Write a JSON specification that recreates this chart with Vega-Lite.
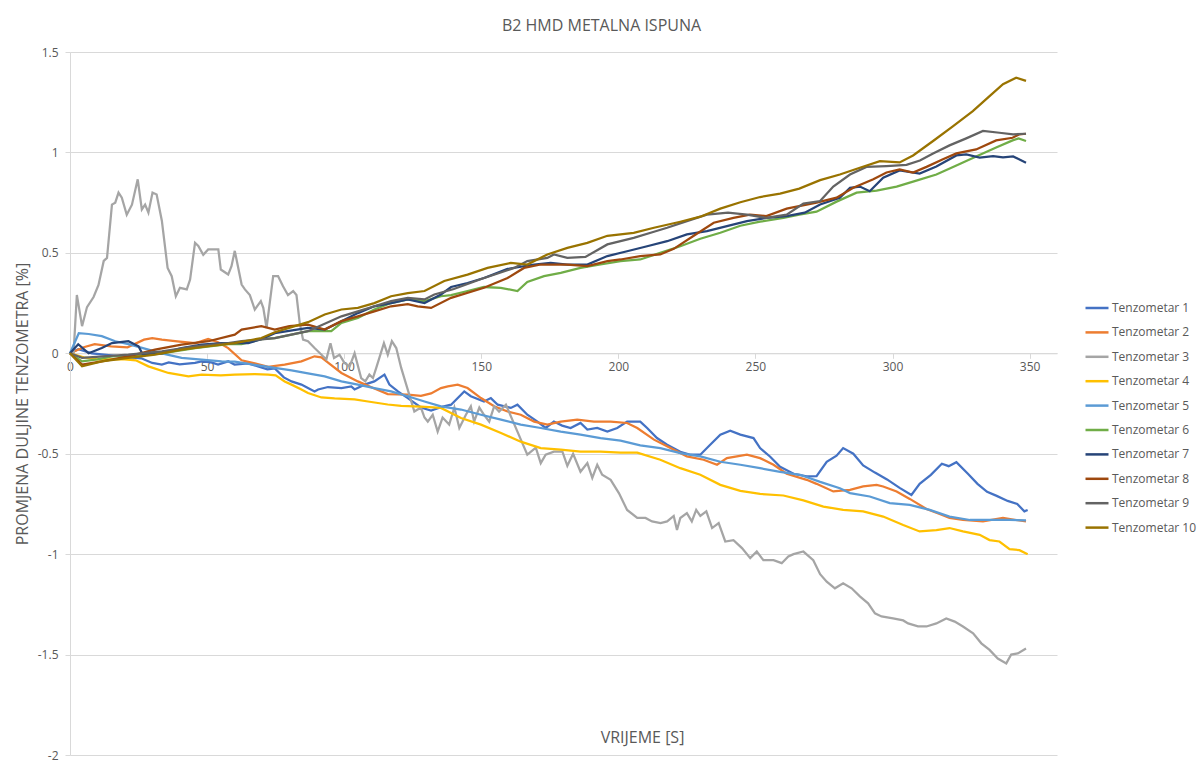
{
"$schema": "https://vega.github.io/schema/vega-lite/v6.json",
"autosize": {"type": "none"},
"padding": {"left": 70, "top": 52, "right": 144, "bottom": 5},
"width": 987,
"height": 703,
"background": "white",
"config": {"view": {"stroke": null}},
"title": {"text": "B2 HMD METALNA ISPUNA", "anchor": "middle", "frame": "group", "dx": 38, "dy": 22, "offset": 21, "baseline": "alphabetic", "font": "Open Sans", "fontSize": 16, "fontWeight": "normal", "color": "#595959"},
"data": {"values": [
{"n":1,"t":0,"v":0},{"n":1,"t":3,"v":0.02},{"n":1,"t":8,"v":0},{"n":1,"t":15,"v":-0.01},{"n":1,"t":22,"v":-0.02},{"n":1,"t":26,"v":-0.025},{"n":1,"t":30,"v":-0.048},{"n":1,"t":33.5,"v":-0.056},{"n":1,"t":36,"v":-0.045},{"n":1,"t":40,"v":-0.055},{"n":1,"t":45.6,"v":-0.048},{"n":1,"t":48,"v":-0.04},{"n":1,"t":51.6,"v":-0.045},{"n":1,"t":54,"v":-0.056},{"n":1,"t":57.7,"v":-0.04},{"n":1,"t":60,"v":-0.056},{"n":1,"t":65,"v":-0.05},{"n":1,"t":68.6,"v":-0.065},{"n":1,"t":72,"v":-0.08},{"n":1,"t":74.7,"v":-0.075},{"n":1,"t":78,"v":-0.12},{"n":1,"t":80.8,"v":-0.14},{"n":1,"t":84.4,"v":-0.156},{"n":1,"t":86.8,"v":-0.173},{"n":1,"t":89.2,"v":-0.19},{"n":1,"t":90.5,"v":-0.18},{"n":1,"t":94.1,"v":-0.168},{"n":1,"t":99,"v":-0.173},{"n":1,"t":102.6,"v":-0.165},{"n":1,"t":103.8,"v":-0.18},{"n":1,"t":107.4,"v":-0.156},{"n":1,"t":111,"v":-0.14},{"n":1,"t":114.7,"v":-0.106},{"n":1,"t":116.5,"v":-0.156},{"n":1,"t":119.6,"v":-0.19},{"n":1,"t":123.2,"v":-0.223},{"n":1,"t":128,"v":-0.27},{"n":1,"t":131.7,"v":-0.285},{"n":1,"t":135.3,"v":-0.268},{"n":1,"t":139,"v":-0.256},{"n":1,"t":143.8,"v":-0.19},{"n":1,"t":146.2,"v":-0.214},{"n":1,"t":151,"v":-0.24},{"n":1,"t":153.5,"v":-0.223},{"n":1,"t":156,"v":-0.256},{"n":1,"t":160.8,"v":-0.272},{"n":1,"t":163.2,"v":-0.256},{"n":1,"t":166.8,"v":-0.306},{"n":1,"t":170.5,"v":-0.34},{"n":1,"t":173.5,"v":-0.372},{"n":1,"t":176.5,"v":-0.34},{"n":1,"t":179.5,"v":-0.36},{"n":1,"t":182.6,"v":-0.372},{"n":1,"t":186.2,"v":-0.347},{"n":1,"t":188.7,"v":-0.38},{"n":1,"t":192.3,"v":-0.372},{"n":1,"t":196,"v":-0.39},{"n":1,"t":199.6,"v":-0.372},{"n":1,"t":203.2,"v":-0.34},{"n":1,"t":208,"v":-0.34},{"n":1,"t":210.5,"v":-0.372},{"n":1,"t":214.1,"v":-0.422},{"n":1,"t":217.8,"v":-0.455},{"n":1,"t":222.6,"v":-0.49},{"n":1,"t":226.3,"v":-0.505},{"n":1,"t":229.9,"v":-0.505},{"n":1,"t":233.5,"v":-0.455},{"n":1,"t":237.2,"v":-0.405},{"n":1,"t":240.8,"v":-0.385},{"n":1,"t":244.5,"v":-0.405},{"n":1,"t":249.3,"v":-0.422},{"n":1,"t":251.7,"v":-0.472},{"n":1,"t":255.4,"v":-0.515},{"n":1,"t":259,"v":-0.565},{"n":1,"t":263.9,"v":-0.6},{"n":1,"t":268.7,"v":-0.613},{"n":1,"t":272.3,"v":-0.612},{"n":1,"t":276,"v":-0.54},{"n":1,"t":279.6,"v":-0.51},{"n":1,"t":282,"v":-0.472},{"n":1,"t":285.7,"v":-0.5},{"n":1,"t":289.3,"v":-0.558},{"n":1,"t":293.6,"v":-0.594},{"n":1,"t":298,"v":-0.628},{"n":1,"t":302.6,"v":-0.67},{"n":1,"t":306.9,"v":-0.705},{"n":1,"t":309.9,"v":-0.65},{"n":1,"t":314,"v":-0.605},{"n":1,"t":318,"v":-0.55},{"n":1,"t":320.5,"v":-0.562},{"n":1,"t":323.3,"v":-0.542},{"n":1,"t":327.5,"v":-0.6},{"n":1,"t":331,"v":-0.65},{"n":1,"t":334.5,"v":-0.69},{"n":1,"t":338,"v":-0.71},{"n":1,"t":342,"v":-0.735},{"n":1,"t":345.5,"v":-0.75},{"n":1,"t":348.1,"v":-0.787},{"n":1,"t":349.3,"v":-0.78},
{"n":2,"t":0,"v":0},{"n":2,"t":5,"v":0.03},{"n":2,"t":9,"v":0.045},{"n":2,"t":15,"v":0.035},{"n":2,"t":21,"v":0.03},{"n":2,"t":27,"v":0.068},{"n":2,"t":30,"v":0.076},{"n":2,"t":33.5,"v":0.068},{"n":2,"t":38.3,"v":0.06},{"n":2,"t":45.6,"v":0.05},{"n":2,"t":50.4,"v":0.072},{"n":2,"t":54,"v":0.055},{"n":2,"t":57.7,"v":0.026},{"n":2,"t":62.6,"v":-0.035},{"n":2,"t":67.4,"v":-0.05},{"n":2,"t":72.3,"v":-0.068},{"n":2,"t":78.3,"v":-0.056},{"n":2,"t":84.4,"v":-0.04},{"n":2,"t":89.2,"v":-0.015},{"n":2,"t":91.7,"v":-0.02},{"n":2,"t":94,"v":-0.045},{"n":2,"t":99,"v":-0.098},{"n":2,"t":105,"v":-0.14},{"n":2,"t":111,"v":-0.175},{"n":2,"t":115.9,"v":-0.203},{"n":2,"t":123.2,"v":-0.206},{"n":2,"t":128,"v":-0.212},{"n":2,"t":131.7,"v":-0.2},{"n":2,"t":135.3,"v":-0.173},{"n":2,"t":137.8,"v":-0.165},{"n":2,"t":141.4,"v":-0.156},{"n":2,"t":145,"v":-0.173},{"n":2,"t":149.9,"v":-0.223},{"n":2,"t":154.7,"v":-0.264},{"n":2,"t":159.6,"v":-0.29},{"n":2,"t":164.4,"v":-0.306},{"n":2,"t":169.3,"v":-0.34},{"n":2,"t":174.1,"v":-0.355},{"n":2,"t":179,"v":-0.34},{"n":2,"t":185,"v":-0.33},{"n":2,"t":191.1,"v":-0.34},{"n":2,"t":197.2,"v":-0.34},{"n":2,"t":203.2,"v":-0.347},{"n":2,"t":206.9,"v":-0.372},{"n":2,"t":213,"v":-0.43},{"n":2,"t":219,"v":-0.472},{"n":2,"t":225,"v":-0.513},{"n":2,"t":231.1,"v":-0.53},{"n":2,"t":236,"v":-0.555},{"n":2,"t":239.6,"v":-0.522},{"n":2,"t":246.9,"v":-0.505},{"n":2,"t":251.7,"v":-0.522},{"n":2,"t":256.6,"v":-0.555},{"n":2,"t":261.4,"v":-0.6},{"n":2,"t":268.7,"v":-0.63},{"n":2,"t":272.3,"v":-0.65},{"n":2,"t":278.4,"v":-0.688},{"n":2,"t":284.5,"v":-0.68},{"n":2,"t":289.3,"v":-0.663},{"n":2,"t":294.2,"v":-0.655},{"n":2,"t":296.6,"v":-0.663},{"n":2,"t":301.5,"v":-0.688},{"n":2,"t":306.3,"v":-0.725},{"n":2,"t":312.4,"v":-0.775},{"n":2,"t":317.2,"v":-0.8},{"n":2,"t":320.8,"v":-0.82},{"n":2,"t":325.7,"v":-0.83},{"n":2,"t":333,"v":-0.837},{"n":2,"t":340.3,"v":-0.82},{"n":2,"t":345.1,"v":-0.83},{"n":2,"t":348.7,"v":-0.837},
{"n":3,"t":0,"v":0},{"n":3,"t":1.3,"v":0},{"n":3,"t":2.5,"v":0.29},{"n":3,"t":4.4,"v":0.135},{"n":3,"t":6.2,"v":0.23},{"n":3,"t":8.6,"v":0.28},{"n":3,"t":10.4,"v":0.34},{"n":3,"t":12.3,"v":0.46},{"n":3,"t":13.5,"v":0.475},{"n":3,"t":15.3,"v":0.74},{"n":3,"t":16.5,"v":0.75},{"n":3,"t":17.7,"v":0.8},{"n":3,"t":18.9,"v":0.775},{"n":3,"t":20.7,"v":0.69},{"n":3,"t":22.6,"v":0.74},{"n":3,"t":24.7,"v":0.866},{"n":3,"t":26.2,"v":0.716},{"n":3,"t":27.4,"v":0.74},{"n":3,"t":28.6,"v":0.7},{"n":3,"t":30.1,"v":0.8},{"n":3,"t":31.6,"v":0.79},{"n":3,"t":33.5,"v":0.66},{"n":3,"t":35.6,"v":0.425},{"n":3,"t":37.1,"v":0.384},{"n":3,"t":38.6,"v":0.284},{"n":3,"t":40.1,"v":0.326},{"n":3,"t":42.6,"v":0.318},{"n":3,"t":43.8,"v":0.367},{"n":3,"t":45.6,"v":0.55},{"n":3,"t":46.8,"v":0.534},{"n":3,"t":48.6,"v":0.49},{"n":3,"t":50.4,"v":0.517},{"n":3,"t":54.1,"v":0.517},{"n":3,"t":55,"v":0.417},{"n":3,"t":57.7,"v":0.392},{"n":3,"t":58.9,"v":0.434},{"n":3,"t":60.1,"v":0.51},{"n":3,"t":62.6,"v":0.342},{"n":3,"t":63.8,"v":0.318},{"n":3,"t":65.6,"v":0.29},{"n":3,"t":67.4,"v":0.218},{"n":3,"t":69.6,"v":0.26},{"n":3,"t":70.5,"v":0.226},{"n":3,"t":71.7,"v":0.126},{"n":3,"t":74.1,"v":0.384},{"n":3,"t":75.9,"v":0.384},{"n":3,"t":77.7,"v":0.334},{"n":3,"t":79.5,"v":0.29},{"n":3,"t":81.4,"v":0.31},{"n":3,"t":82.6,"v":0.29},{"n":3,"t":83.8,"v":0.15},{"n":3,"t":85,"v":0.068},{"n":3,"t":86.8,"v":0.06},{"n":3,"t":89.2,"v":0.026},{"n":3,"t":92.3,"v":-0.015},{"n":3,"t":93.5,"v":-0.03},{"n":3,"t":95,"v":0.05},{"n":3,"t":96.3,"v":-0.023},{"n":3,"t":98.3,"v":-0.007},{"n":3,"t":100.1,"v":-0.048},{"n":3,"t":102,"v":-0.065},{"n":3,"t":103.8,"v":0},{"n":3,"t":106.2,"v":-0.123},{"n":3,"t":107.7,"v":-0.14},{"n":3,"t":109.2,"v":-0.106},{"n":3,"t":110.5,"v":-0.123},{"n":3,"t":111.7,"v":-0.073},{"n":3,"t":114.5,"v":0.05},{"n":3,"t":115.9,"v":-0.007},{"n":3,"t":117.4,"v":0.06},{"n":3,"t":119,"v":0.026},{"n":3,"t":120.8,"v":-0.073},{"n":3,"t":125.6,"v":-0.29},{"n":3,"t":128,"v":-0.27},{"n":3,"t":129.3,"v":-0.32},{"n":3,"t":130.5,"v":-0.34},{"n":3,"t":132.3,"v":-0.306},{"n":3,"t":134.1,"v":-0.39},{"n":3,"t":135.9,"v":-0.32},{"n":3,"t":138.3,"v":-0.355},{"n":3,"t":140.2,"v":-0.27},{"n":3,"t":142,"v":-0.372},{"n":3,"t":144.4,"v":-0.306},{"n":3,"t":146.2,"v":-0.264},{"n":3,"t":147.4,"v":-0.34},{"n":3,"t":149.3,"v":-0.27},{"n":3,"t":151,"v":-0.306},{"n":3,"t":152.9,"v":-0.34},{"n":3,"t":154.7,"v":-0.264},{"n":3,"t":156.5,"v":-0.29},{"n":3,"t":159,"v":-0.256},{"n":3,"t":163.2,"v":-0.39},{"n":3,"t":166.8,"v":-0.505},{"n":3,"t":169.9,"v":-0.47},{"n":3,"t":171.7,"v":-0.547},{"n":3,"t":173.5,"v":-0.505},{"n":3,"t":176.5,"v":-0.49},{"n":3,"t":179.6,"v":-0.49},{"n":3,"t":181.4,"v":-0.56},{"n":3,"t":183.5,"v":-0.5},{"n":3,"t":186.2,"v":-0.59},{"n":3,"t":188.7,"v":-0.547},{"n":3,"t":190.5,"v":-0.62},{"n":3,"t":192.3,"v":-0.555},{"n":3,"t":194.1,"v":-0.605},{"n":3,"t":197.2,"v":-0.63},{"n":3,"t":200.2,"v":-0.696},{"n":3,"t":203.2,"v":-0.78},{"n":3,"t":206.9,"v":-0.82},{"n":3,"t":209.9,"v":-0.82},{"n":3,"t":212.3,"v":-0.837},{"n":3,"t":215.4,"v":-0.845},{"n":3,"t":217.8,"v":-0.837},{"n":3,"t":220.2,"v":-0.81},{"n":3,"t":221.4,"v":-0.88},{"n":3,"t":222.6,"v":-0.82},{"n":3,"t":225,"v":-0.796},{"n":3,"t":226.8,"v":-0.837},{"n":3,"t":228.4,"v":-0.78},{"n":3,"t":229.9,"v":-0.81},{"n":3,"t":232.1,"v":-0.787},{"n":3,"t":234.2,"v":-0.87},{"n":3,"t":236.6,"v":-0.845},{"n":3,"t":239,"v":-0.937},{"n":3,"t":242,"v":-0.93},{"n":3,"t":245.1,"v":-0.97},{"n":3,"t":248.1,"v":-1.02},{"n":3,"t":250.5,"v":-0.987},{"n":3,"t":252.9,"v":-1.03},{"n":3,"t":256.6,"v":-1.03},{"n":3,"t":259.6,"v":-1.045},{"n":3,"t":262,"v":-1.012},{"n":3,"t":263.9,"v":-1.0},{"n":3,"t":267.5,"v":-0.987},{"n":3,"t":271.1,"v":-1.03},{"n":3,"t":273.6,"v":-1.1},{"n":3,"t":276,"v":-1.137},{"n":3,"t":279,"v":-1.17},{"n":3,"t":282,"v":-1.145},{"n":3,"t":285.1,"v":-1.17},{"n":3,"t":288.1,"v":-1.21},{"n":3,"t":291.1,"v":-1.245},{"n":3,"t":293.6,"v":-1.295},{"n":3,"t":296,"v":-1.31},{"n":3,"t":300.2,"v":-1.32},{"n":3,"t":303.9,"v":-1.33},{"n":3,"t":305.7,"v":-1.345},{"n":3,"t":309.3,"v":-1.36},{"n":3,"t":312.4,"v":-1.36},{"n":3,"t":316,"v":-1.345},{"n":3,"t":319.6,"v":-1.32},{"n":3,"t":322.7,"v":-1.336},{"n":3,"t":325.7,"v":-1.36},{"n":3,"t":329.4,"v":-1.394},{"n":3,"t":332.4,"v":-1.444},{"n":3,"t":335.4,"v":-1.477},{"n":3,"t":338.4,"v":-1.52},{"n":3,"t":341.5,"v":-1.544},{"n":3,"t":343.3,"v":-1.5},{"n":3,"t":345.7,"v":-1.494},{"n":3,"t":348.7,"v":-1.47},
{"n":4,"t":0,"v":0},{"n":4,"t":5,"v":-0.02},{"n":4,"t":10,"v":-0.03},{"n":4,"t":20,"v":-0.03},{"n":4,"t":24,"v":-0.035},{"n":4,"t":28.6,"v":-0.065},{"n":4,"t":35.9,"v":-0.098},{"n":4,"t":43.2,"v":-0.115},{"n":4,"t":48,"v":-0.106},{"n":4,"t":55,"v":-0.11},{"n":4,"t":60.1,"v":-0.106},{"n":4,"t":67.4,"v":-0.104},{"n":4,"t":72.3,"v":-0.106},{"n":4,"t":75,"v":-0.11},{"n":4,"t":78.3,"v":-0.14},{"n":4,"t":80.8,"v":-0.156},{"n":4,"t":84.4,"v":-0.18},{"n":4,"t":86.8,"v":-0.198},{"n":4,"t":91.7,"v":-0.22},{"n":4,"t":96.5,"v":-0.225},{"n":4,"t":103.8,"v":-0.23},{"n":4,"t":108.7,"v":-0.24},{"n":4,"t":115.9,"v":-0.255},{"n":4,"t":120.8,"v":-0.262},{"n":4,"t":128,"v":-0.266},{"n":4,"t":135.3,"v":-0.272},{"n":4,"t":142.6,"v":-0.322},{"n":4,"t":149.9,"v":-0.355},{"n":4,"t":157.2,"v":-0.397},{"n":4,"t":164.4,"v":-0.44},{"n":4,"t":171.7,"v":-0.472},{"n":4,"t":179,"v":-0.48},{"n":4,"t":186.2,"v":-0.49},{"n":4,"t":193.5,"v":-0.49},{"n":4,"t":200.8,"v":-0.495},{"n":4,"t":206.9,"v":-0.495},{"n":4,"t":215.3,"v":-0.53},{"n":4,"t":222.6,"v":-0.572},{"n":4,"t":229.9,"v":-0.605},{"n":4,"t":237.2,"v":-0.655},{"n":4,"t":244.5,"v":-0.685},{"n":4,"t":251.7,"v":-0.7},{"n":4,"t":260.2,"v":-0.708},{"n":4,"t":267.5,"v":-0.732},{"n":4,"t":274.8,"v":-0.763},{"n":4,"t":282,"v":-0.78},{"n":4,"t":289.3,"v":-0.787},{"n":4,"t":296.6,"v":-0.813},{"n":4,"t":303.9,"v":-0.855},{"n":4,"t":309.9,"v":-0.887},{"n":4,"t":316,"v":-0.88},{"n":4,"t":320.8,"v":-0.87},{"n":4,"t":325.7,"v":-0.887},{"n":4,"t":331.8,"v":-0.904},{"n":4,"t":335.4,"v":-0.93},{"n":4,"t":339,"v":-0.937},{"n":4,"t":342.7,"v":-0.975},{"n":4,"t":346.3,"v":-0.98},{"n":4,"t":349.3,"v":-1.0},
{"n":5,"t":0,"v":0},{"n":5,"t":3.2,"v":0.1},{"n":5,"t":6.8,"v":0.096},{"n":5,"t":11.6,"v":0.085},{"n":5,"t":16.5,"v":0.06},{"n":5,"t":21.3,"v":0.046},{"n":5,"t":28.6,"v":0.018},{"n":5,"t":33.5,"v":0},{"n":5,"t":40.7,"v":-0.023},{"n":5,"t":48,"v":-0.032},{"n":5,"t":55.3,"v":-0.04},{"n":5,"t":60.1,"v":-0.042},{"n":5,"t":68.6,"v":-0.06},{"n":5,"t":74.7,"v":-0.073},{"n":5,"t":80.8,"v":-0.085},{"n":5,"t":86.8,"v":-0.1},{"n":5,"t":92.9,"v":-0.115},{"n":5,"t":99,"v":-0.14},{"n":5,"t":105,"v":-0.156},{"n":5,"t":111,"v":-0.173},{"n":5,"t":117.1,"v":-0.19},{"n":5,"t":123.2,"v":-0.214},{"n":5,"t":129.3,"v":-0.24},{"n":5,"t":135.3,"v":-0.264},{"n":5,"t":142.6,"v":-0.28},{"n":5,"t":149.9,"v":-0.306},{"n":5,"t":157.2,"v":-0.33},{"n":5,"t":164.4,"v":-0.355},{"n":5,"t":171.7,"v":-0.372},{"n":5,"t":179,"v":-0.39},{"n":5,"t":186.2,"v":-0.405},{"n":5,"t":193.5,"v":-0.422},{"n":5,"t":200.8,"v":-0.435},{"n":5,"t":208,"v":-0.458},{"n":5,"t":215.3,"v":-0.472},{"n":5,"t":222.6,"v":-0.497},{"n":5,"t":229.9,"v":-0.513},{"n":5,"t":237.2,"v":-0.54},{"n":5,"t":244.5,"v":-0.555},{"n":5,"t":251.7,"v":-0.572},{"n":5,"t":259,"v":-0.59},{"n":5,"t":266.3,"v":-0.605},{"n":5,"t":273.6,"v":-0.64},{"n":5,"t":280.8,"v":-0.672},{"n":5,"t":284.5,"v":-0.696},{"n":5,"t":291.7,"v":-0.713},{"n":5,"t":299,"v":-0.746},{"n":5,"t":306.3,"v":-0.755},{"n":5,"t":313.6,"v":-0.78},{"n":5,"t":320.8,"v":-0.813},{"n":5,"t":328.2,"v":-0.83},{"n":5,"t":335.4,"v":-0.83},{"n":5,"t":342.7,"v":-0.83},{"n":5,"t":348.7,"v":-0.832},
{"n":6,"t":0,"v":0},{"n":6,"t":4.4,"v":-0.04},{"n":6,"t":10,"v":-0.03},{"n":6,"t":15.3,"v":-0.015},{"n":6,"t":25,"v":-0.01},{"n":6,"t":33.5,"v":0},{"n":6,"t":45.6,"v":0.026},{"n":6,"t":57.7,"v":0.046},{"n":6,"t":62.6,"v":0.045},{"n":6,"t":69.8,"v":0.07},{"n":6,"t":74.7,"v":0.076},{"n":6,"t":86.8,"v":0.11},{"n":6,"t":95.3,"v":0.11},{"n":6,"t":99,"v":0.151},{"n":6,"t":105,"v":0.176},{"n":6,"t":111,"v":0.218},{"n":6,"t":117.1,"v":0.25},{"n":6,"t":123.2,"v":0.268},{"n":6,"t":129.3,"v":0.26},{"n":6,"t":135.3,"v":0.284},{"n":6,"t":139,"v":0.29},{"n":6,"t":145,"v":0.31},{"n":6,"t":151,"v":0.33},{"n":6,"t":157.1,"v":0.326},{"n":6,"t":163.2,"v":0.31},{"n":6,"t":166.8,"v":0.355},{"n":6,"t":172.9,"v":0.384},{"n":6,"t":179,"v":0.4},{"n":6,"t":186.2,"v":0.425},{"n":6,"t":193.5,"v":0.442},{"n":6,"t":200.8,"v":0.459},{"n":6,"t":208,"v":0.467},{"n":6,"t":215.3,"v":0.5},{"n":6,"t":222.6,"v":0.533},{"n":6,"t":229.9,"v":0.57},{"n":6,"t":237.2,"v":0.6},{"n":6,"t":244.5,"v":0.635},{"n":6,"t":251.7,"v":0.655},{"n":6,"t":260.2,"v":0.674},{"n":6,"t":266,"v":0.69},{"n":6,"t":272.3,"v":0.705},{"n":6,"t":279.6,"v":0.755},{"n":6,"t":286.9,"v":0.8},{"n":6,"t":294.2,"v":0.81},{"n":6,"t":301.5,"v":0.83},{"n":6,"t":308.7,"v":0.86},{"n":6,"t":316,"v":0.89},{"n":6,"t":323.3,"v":0.935},{"n":6,"t":330.5,"v":0.98},{"n":6,"t":337.8,"v":1.025},{"n":6,"t":343.8,"v":1.06},{"n":6,"t":346,"v":1.07},{"n":6,"t":348.7,"v":1.057},
{"n":7,"t":0,"v":0},{"n":7,"t":3,"v":0.045},{"n":7,"t":6.8,"v":0},{"n":7,"t":11.6,"v":0.026},{"n":7,"t":15.3,"v":0.051},{"n":7,"t":21.3,"v":0.06},{"n":7,"t":25,"v":0.035},{"n":7,"t":26.5,"v":-0.005},{"n":7,"t":33.5,"v":0},{"n":7,"t":40.7,"v":0.026},{"n":7,"t":48,"v":0.043},{"n":7,"t":55.3,"v":0.051},{"n":7,"t":65,"v":0.051},{"n":7,"t":69.8,"v":0.07},{"n":7,"t":74.7,"v":0.1},{"n":7,"t":86.8,"v":0.126},{"n":7,"t":92.9,"v":0.118},{"n":7,"t":99,"v":0.16},{"n":7,"t":105,"v":0.2},{"n":7,"t":111,"v":0.234},{"n":7,"t":117.1,"v":0.25},{"n":7,"t":123.2,"v":0.268},{"n":7,"t":129.3,"v":0.25},{"n":7,"t":135.3,"v":0.293},{"n":7,"t":139,"v":0.33},{"n":7,"t":145,"v":0.35},{"n":7,"t":151,"v":0.375},{"n":7,"t":159.6,"v":0.42},{"n":7,"t":169.3,"v":0.442},{"n":7,"t":175.3,"v":0.45},{"n":7,"t":181.4,"v":0.442},{"n":7,"t":188.7,"v":0.442},{"n":7,"t":196,"v":0.484},{"n":7,"t":203.2,"v":0.508},{"n":7,"t":210.5,"v":0.533},{"n":7,"t":217.8,"v":0.558},{"n":7,"t":225,"v":0.592},{"n":7,"t":232.3,"v":0.608},{"n":7,"t":239.6,"v":0.633},{"n":7,"t":246.9,"v":0.658},{"n":7,"t":254,"v":0.674},{"n":7,"t":261.4,"v":0.683},{"n":7,"t":268,"v":0.7},{"n":7,"t":273.6,"v":0.741},{"n":7,"t":280.8,"v":0.774},{"n":7,"t":284.5,"v":0.824},{"n":7,"t":288.1,"v":0.83},{"n":7,"t":291.7,"v":0.807},{"n":7,"t":296.6,"v":0.874},{"n":7,"t":302.6,"v":0.91},{"n":7,"t":309.9,"v":0.895},{"n":7,"t":316,"v":0.93},{"n":7,"t":323.3,"v":0.985},{"n":7,"t":326.9,"v":0.99},{"n":7,"t":331.8,"v":0.974},{"n":7,"t":336.7,"v":0.982},{"n":7,"t":340.3,"v":0.975},{"n":7,"t":344,"v":0.98},{"n":7,"t":348.7,"v":0.949},
{"n":8,"t":0,"v":0},{"n":8,"t":4.4,"v":-0.056},{"n":8,"t":11.6,"v":-0.04},{"n":8,"t":21.3,"v":-0.015},{"n":8,"t":31,"v":0.018},{"n":8,"t":40.7,"v":0.043},{"n":8,"t":50.5,"v":0.06},{"n":8,"t":60.1,"v":0.093},{"n":8,"t":62.6,"v":0.118},{"n":8,"t":69.8,"v":0.135},{"n":8,"t":74.7,"v":0.118},{"n":8,"t":80,"v":0.135},{"n":8,"t":86.8,"v":0.143},{"n":8,"t":92.9,"v":0.118},{"n":8,"t":99,"v":0.16},{"n":8,"t":105,"v":0.184},{"n":8,"t":111,"v":0.209},{"n":8,"t":117.1,"v":0.234},{"n":8,"t":123.2,"v":0.245},{"n":8,"t":126.8,"v":0.234},{"n":8,"t":131.7,"v":0.226},{"n":8,"t":139,"v":0.276},{"n":8,"t":151,"v":0.326},{"n":8,"t":159.6,"v":0.375},{"n":8,"t":165.6,"v":0.425},{"n":8,"t":171.7,"v":0.442},{"n":8,"t":181.4,"v":0.442},{"n":8,"t":188.7,"v":0.434},{"n":8,"t":196,"v":0.459},{"n":8,"t":200.8,"v":0.467},{"n":8,"t":208,"v":0.484},{"n":8,"t":215.3,"v":0.492},{"n":8,"t":220.2,"v":0.52},{"n":8,"t":227.5,"v":0.585},{"n":8,"t":234.8,"v":0.65},{"n":8,"t":242,"v":0.674},{"n":8,"t":248,"v":0.69},{"n":8,"t":254,"v":0.683},{"n":8,"t":261.4,"v":0.72},{"n":8,"t":272.3,"v":0.75},{"n":8,"t":279.6,"v":0.775},{"n":8,"t":285.7,"v":0.824},{"n":8,"t":293,"v":0.866},{"n":8,"t":297.8,"v":0.9},{"n":8,"t":302.6,"v":0.916},{"n":8,"t":307.5,"v":0.9},{"n":8,"t":312.4,"v":0.928},{"n":8,"t":318.4,"v":0.966},{"n":8,"t":323.3,"v":0.995},{"n":8,"t":330.5,"v":1.015},{"n":8,"t":337.8,"v":1.06},{"n":8,"t":343.8,"v":1.073},{"n":8,"t":346.3,"v":1.09},{"n":8,"t":348.7,"v":1.093},
{"n":9,"t":0,"v":0},{"n":9,"t":4.4,"v":-0.023},{"n":9,"t":21.3,"v":-0.007},{"n":9,"t":33.5,"v":0.01},{"n":9,"t":45.6,"v":0.035},{"n":9,"t":57.7,"v":0.051},{"n":9,"t":62.6,"v":0.06},{"n":9,"t":74.7,"v":0.076},{"n":9,"t":86.8,"v":0.11},{"n":9,"t":99,"v":0.184},{"n":9,"t":105,"v":0.209},{"n":9,"t":111,"v":0.234},{"n":9,"t":117.1,"v":0.26},{"n":9,"t":123.2,"v":0.276},{"n":9,"t":129.3,"v":0.268},{"n":9,"t":132.9,"v":0.293},{"n":9,"t":140,"v":0.32},{"n":9,"t":150,"v":0.37},{"n":9,"t":162,"v":0.425},{"n":9,"t":166.8,"v":0.459},{"n":9,"t":174.1,"v":0.475},{"n":9,"t":176.5,"v":0.492},{"n":9,"t":181.4,"v":0.475},{"n":9,"t":188,"v":0.48},{"n":9,"t":196,"v":0.542},{"n":9,"t":205.6,"v":0.575},{"n":9,"t":213,"v":0.605},{"n":9,"t":217.8,"v":0.625},{"n":9,"t":225,"v":0.658},{"n":9,"t":232.3,"v":0.69},{"n":9,"t":240,"v":0.7},{"n":9,"t":246.9,"v":0.69},{"n":9,"t":254,"v":0.674},{"n":9,"t":261.4,"v":0.69},{"n":9,"t":267.5,"v":0.745},{"n":9,"t":273.6,"v":0.758},{"n":9,"t":278.4,"v":0.83},{"n":9,"t":284.5,"v":0.89},{"n":9,"t":290.5,"v":0.928},{"n":9,"t":297.8,"v":0.932},{"n":9,"t":305.1,"v":0.938},{"n":9,"t":310,"v":0.96},{"n":9,"t":314.8,"v":0.995},{"n":9,"t":320.8,"v":1.035},{"n":9,"t":326.9,"v":1.07},{"n":9,"t":333,"v":1.107},{"n":9,"t":339,"v":1.098},{"n":9,"t":344,"v":1.09},{"n":9,"t":348.7,"v":1.093},
{"n":10,"t":0,"v":0},{"n":10,"t":4.4,"v":-0.065},{"n":10,"t":11.6,"v":-0.04},{"n":10,"t":21.3,"v":-0.023},{"n":10,"t":31,"v":-0.007},{"n":10,"t":40.7,"v":0.018},{"n":10,"t":50.5,"v":0.035},{"n":10,"t":60.1,"v":0.051},{"n":10,"t":69.8,"v":0.076},{"n":10,"t":74.7,"v":0.105},{"n":10,"t":80.8,"v":0.13},{"n":10,"t":86.8,"v":0.155},{"n":10,"t":92.9,"v":0.193},{"n":10,"t":99,"v":0.218},{"n":10,"t":105,"v":0.226},{"n":10,"t":111,"v":0.25},{"n":10,"t":117.1,"v":0.284},{"n":10,"t":123.2,"v":0.3},{"n":10,"t":129.3,"v":0.31},{"n":10,"t":136.5,"v":0.36},{"n":10,"t":145,"v":0.392},{"n":10,"t":152.3,"v":0.425},{"n":10,"t":160.8,"v":0.45},{"n":10,"t":166.8,"v":0.442},{"n":10,"t":174.1,"v":0.492},{"n":10,"t":181.4,"v":0.525},{"n":10,"t":188.7,"v":0.55},{"n":10,"t":196,"v":0.585},{"n":10,"t":205.6,"v":0.6},{"n":10,"t":213,"v":0.625},{"n":10,"t":222.6,"v":0.655},{"n":10,"t":229.9,"v":0.68},{"n":10,"t":237.2,"v":0.72},{"n":10,"t":244.5,"v":0.752},{"n":10,"t":251.7,"v":0.778},{"n":10,"t":259,"v":0.795},{"n":10,"t":266,"v":0.82},{"n":10,"t":273.6,"v":0.862},{"n":10,"t":280.8,"v":0.89},{"n":10,"t":288.1,"v":0.924},{"n":10,"t":295.4,"v":0.957},{"n":10,"t":302.6,"v":0.95},{"n":10,"t":307.5,"v":0.985},{"n":10,"t":314.8,"v":1.057},{"n":10,"t":322,"v":1.13},{"n":10,"t":329.3,"v":1.206},{"n":10,"t":335.4,"v":1.28},{"n":10,"t":340.3,"v":1.34},{"n":10,"t":345.1,"v":1.372},{"n":10,"t":348.7,"v":1.356}
]},
"mark": {"type": "line", "strokeWidth": 2.25},
"encoding": {
"x": {"field": "t", "type": "quantitative", "scale": {"domain": [0, 360], "nice": false, "zero": false},
 "axis": {"title": "VRIJEME [S]", "values": [0,50,100,150,200,250,300,350], "offset": -401.7, "grid": false, "domainColor": "#D9D9D9", "tickColor": "#D9D9D9", "tickSize": 5, "labelFont": "Open Sans", "labelFontSize": 12, "labelColor": "#595959", "labelPadding": 3, "labelFlush": false, "labelOverlap": false, "titleFont": "Open Sans", "titleFontSize": 16, "titleFontWeight": "normal", "titleColor": "#595959", "titleX": 572, "titleY": 389, "titleAlign": "center", "titleBaseline": "alphabetic"}},
"y": {"field": "v", "type": "quantitative", "scale": {"domain": [-2, 1.5], "nice": false, "zero": false},
 "axis": {"title": "PROMJENA DULJINE TENZOMETRA [%]", "values": [-2,-1.5,-1,-0.5,0,0.5,1,1.5], "labelExpr": "toString(datum.value)", "grid": true, "gridColor": "#D9D9D9", "domainColor": "#D9D9D9", "tickColor": "#D9D9D9", "tickSize": 5, "labelFont": "Open Sans", "labelFontSize": 12, "labelColor": "#595959", "labelPadding": 7, "labelFlush": false, "labelOverlap": false, "titleFont": "Open Sans", "titleFontSize": 16, "titleFontWeight": "normal", "titleColor": "#595959", "titleAngle": 270, "titleX": -43, "titleY": 351.5, "titleAlign": "center", "titleBaseline": "alphabetic"}},
"color": {"field": "n", "type": "nominal",
 "scale": {"domain": [1,2,3,4,5,6,7,8,9,10], "range": ["#4472C4","#ED7D31","#A5A5A5","#FFC000","#5B9BD5","#70AD47","#264478","#9E480E","#636363","#997300"]},
 "legend": {"title": null, "orient": "none", "legendX": 1014, "legendY": 243, "padding": 0, "symbolType": "stroke", "symbolSize": 529, "symbolStrokeWidth": 2.5, "labelExpr": "'Tenzometar ' + datum.label", "labelFont": "Open Sans", "labelFontSize": 12, "labelColor": "#595959", "labelOffset": 2, "rowPadding": 5.4}}
}
}
